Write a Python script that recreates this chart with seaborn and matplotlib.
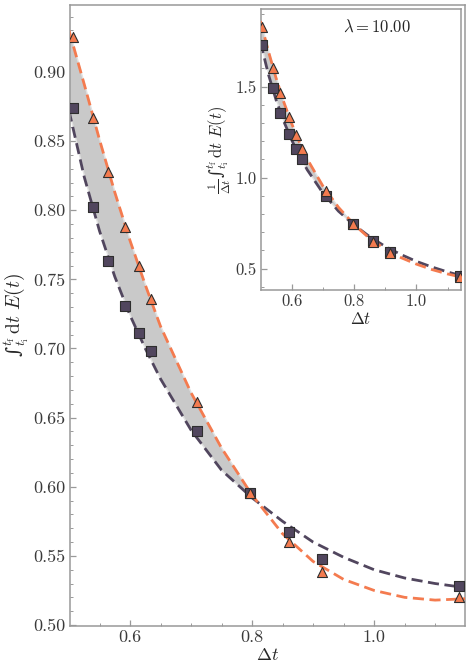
import numpy as np
import pandas as pd
import matplotlib
matplotlib.use("Agg")
import matplotlib.pyplot as plt
from matplotlib.ticker import MultipleLocator, FormatStrFormatter
import seaborn as sns

dt = [0.506, 0.539, 0.564, 0.592, 0.615, 0.634, 0.710, 0.797, 0.861, 0.915, 1.140]
sq_main = [0.874, 0.802, 0.763, 0.731, 0.711, 0.698, 0.640, 0.5955, 0.567, 0.548, 0.528]
tri_main = [0.925, 0.867, 0.8275, 0.788, 0.760, 0.736, 0.6616, 0.5955, 0.560, 0.538, 0.520]
sq_inset = [1.729, 1.491, 1.354, 1.238, 1.159, 1.101, 0.899, 0.745, 0.654, 0.593, 0.460]
tri_inset = [1.826, 1.604, 1.467, 1.332, 1.235, 1.158, 0.927, 0.745, 0.649, 0.585, 0.456]

# dashed fit curves
dt_fit = [0.5, 0.525, 0.55, 0.575, 0.6, 0.625, 0.65, 0.7, 0.75, 0.8,
          0.85, 0.9, 0.95, 1.0, 1.05, 1.1, 1.15]
orange_main = [0.930, 0.891, 0.851, 0.813, 0.778, 0.746, 0.716, 0.668, 0.628, 0.594,
               0.566, 0.546, 0.533, 0.525, 0.520, 0.518, 0.519]
purple_main = [0.872, 0.824, 0.785, 0.752, 0.724, 0.700, 0.678, 0.641, 0.612, 0.592,
               0.575, 0.560, 0.549, 0.540, 0.534, 0.530, 0.527]
orange_inset = [1.860, 1.697, 1.547, 1.414, 1.297, 1.194, 1.102, 0.954, 0.837, 0.743,
                0.666, 0.607, 0.561, 0.525, 0.495, 0.471, 0.451]
purple_inset = [1.744, 1.570, 1.427, 1.308, 1.207, 1.120, 1.043, 0.916, 0.816, 0.740,
                0.676, 0.622, 0.578, 0.540, 0.509, 0.482, 0.458]

lam = 10.00

ORANGE = "#f47b4f"
PURPLE = "#51465e"
GRAY = "#c9c9c9"
SPINE = "#999999"

sns.set_theme(style="white")
plt.rcParams["font.family"] = ["cmr10", "DejaVu Serif"]
plt.rcParams["mathtext.fontset"] = "cm"
plt.rcParams["axes.formatter.use_mathtext"] = True

INTEGRAL = "\u222b" + r"$_{t_\mathrm{i}}^{t_\mathrm{f}}\,\mathrm{d}t\ E(t)$"


def draw_panel(ax, y_or, y_pu, y_sq, y_tri, ms_sq, ms_tri):
    fit = pd.DataFrame({"dt": dt_fit, "orange": y_or, "purple": y_pu})
    pts = pd.DataFrame({"dt": dt, "sq": y_sq, "tri": y_tri})
    o = np.array(y_or)
    p = np.array(y_pu)
    ax.fill_between(fit["dt"], fit["purple"], fit["orange"], where=o >= p,
                    interpolate=True, facecolor=GRAY, edgecolor="#e2e2e2",
                    lw=1.0, zorder=1)
    sns.lineplot(data=fit, x="dt", y="purple", ax=ax, color=PURPLE, lw=2.0,
                 linestyle=(0, (4, 2)), zorder=2)
    sns.lineplot(data=fit, x="dt", y="orange", ax=ax, color=ORANGE, lw=2.0,
                 linestyle=(0, (4, 2)), zorder=3)
    sns.scatterplot(data=pts, x="dt", y="sq", ax=ax, marker="s", s=ms_sq,
                    color=PURPLE, edgecolor="#2e2e2e", linewidth=0.8, zorder=4)
    sns.scatterplot(data=pts, x="dt", y="tri", ax=ax, marker="^", s=ms_tri,
                    color=ORANGE, edgecolor="#2e2e2e", linewidth=0.8, zorder=5)
    for sp in ax.spines.values():
        sp.set_color(SPINE)
        sp.set_linewidth(1.1)
    ax.tick_params(which="both", direction="in", color=SPINE, labelcolor="#3a3a3a",
                   left=True, bottom=True)
    ax.tick_params(which="major", length=4, width=0.9)
    ax.tick_params(which="minor", length=2.2, width=0.7)


fig = plt.figure(figsize=(4.71, 6.72), dpi=100)
ax = fig.add_axes([0.1486, 0.0685, 0.8386, 0.9246])
draw_panel(ax, orange_main, purple_main, sq_main, tri_main, 44, 52)
ax.set_xlim(0.5016, 1.149)
ax.set_ylim(0.4993, 0.9487)
ax.xaxis.set_major_locator(MultipleLocator(0.2))
ax.xaxis.set_minor_locator(MultipleLocator(0.05))
ax.yaxis.set_major_locator(MultipleLocator(0.05))
ax.yaxis.set_minor_locator(MultipleLocator(0.01))
ax.xaxis.set_major_formatter(FormatStrFormatter("%.1f"))
ax.yaxis.set_major_formatter(FormatStrFormatter("%.2f"))
ax.tick_params(labelsize=13, pad=3)
ax.set_xlabel(r"$\Delta t$", fontsize=13, labelpad=1)
ax.set_ylabel(INTEGRAL, fontsize=14, labelpad=2, fontfamily="DejaVu Serif")

ins = fig.add_axes([0.5535, 0.5685, 0.4253, 0.4177])
ins.set_facecolor("white")
draw_panel(ins, orange_inset, purple_inset, sq_inset, tri_inset, 44, 52)
ins.set_xlim(0.5007, 1.143)
ins.set_ylim(0.383, 1.925)
ins.xaxis.set_major_locator(MultipleLocator(0.2))
ins.xaxis.set_minor_locator(MultipleLocator(0.1))
ins.yaxis.set_major_locator(MultipleLocator(0.5))
ins.yaxis.set_minor_locator(MultipleLocator(0.1))
ins.xaxis.set_major_formatter(FormatStrFormatter("%.1f"))
ins.yaxis.set_major_formatter(FormatStrFormatter("%.1f"))
ins.tick_params(labelsize=12, pad=3)
ins.set_xlabel(r"$\Delta t$", fontsize=12, labelpad=1)
ins.set_ylabel(r"$\frac{1}{\Delta t}$" + INTEGRAL, fontsize=12, labelpad=2,
               fontfamily="DejaVu Serif")
ins.text(0.58, 0.94, r"$\lambda = %.2f$" % lam, transform=ins.transAxes,
         ha="center", va="center", fontsize=12)

fig.savefig("out.png", dpi=100)
